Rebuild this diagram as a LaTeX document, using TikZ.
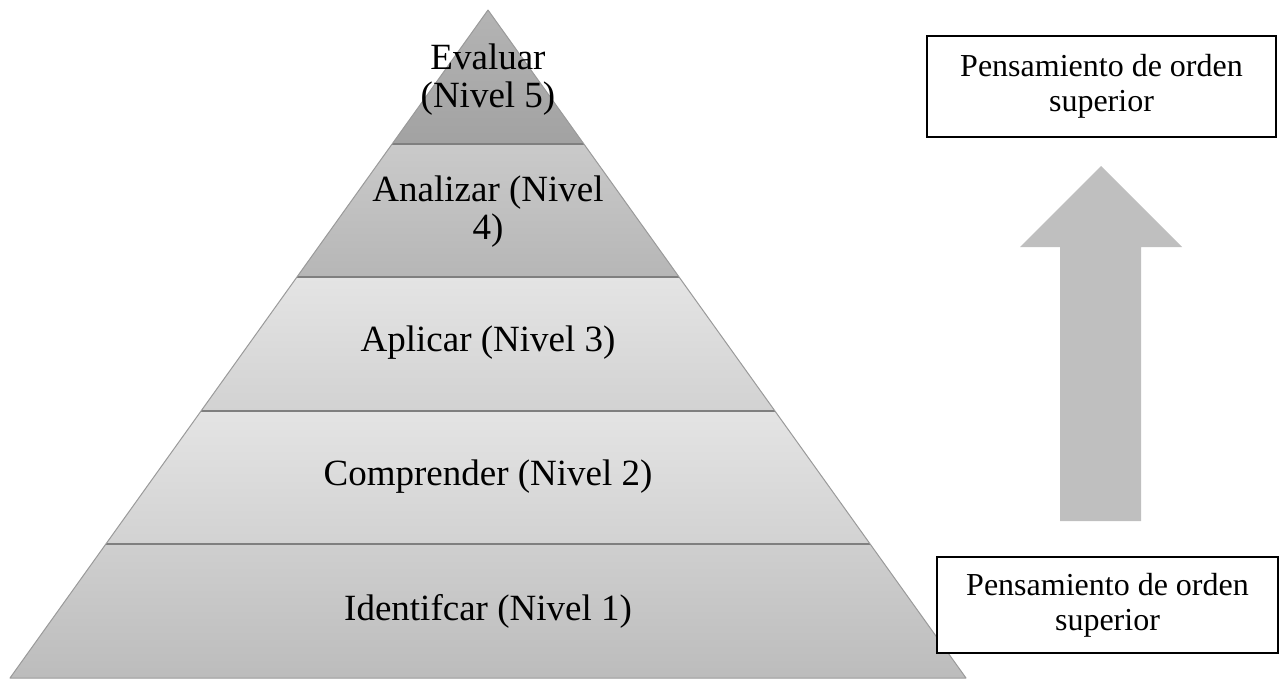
\documentclass[tikz,border=0pt]{standalone}
\usepackage{fontspec}
\setmainfont{Liberation Serif}
\usetikzlibrary{positioning,calc}

\definecolor{niv1a}{HTML}{CFCFCF}
\definecolor{niv1b}{HTML}{BCBCBC}
\definecolor{niv2a}{HTML}{E4E4E4}
\definecolor{niv2b}{HTML}{D2D2D2}
\definecolor{niv3a}{HTML}{E4E4E4}
\definecolor{niv3b}{HTML}{D2D2D2}
\definecolor{niv4a}{HTML}{CACACA}
\definecolor{niv4b}{HTML}{B6B6B6}
\definecolor{niv5a}{HTML}{B4B4B4}
\definecolor{niv5b}{HTML}{A2A2A2}
\definecolor{borde}{HTML}{9A9A9A}
\definecolor{raya}{HTML}{7F7F7F}
\definecolor{flecha}{HTML}{BFBFBF}

\tikzset{
  nivel/.style={font=\fontsize{37}{38}\selectfont, align=center, inner sep=0pt},
  caja/.style={draw=black, line width=2pt, fill=white, align=center,
    font=\fontsize{32}{35}\selectfont, inner sep=0pt}
}

\begin{document}
\begin{tikzpicture}[x=1pt,y=-1pt]
      \useasboundingbox (0,0) rectangle (1280,678);
      \begin{scope}
        \def\alto{133.6}
        \foreach \k/\ca/\cb in {1/niv1a/niv1b,2/niv2a/niv2b,3/niv3a/niv3b,4/niv4a/niv4b,5/niv5a/niv5b} {
          \pgfmathsetmacro\ya{678-\alto*\k}
          \pgfmathsetmacro\yb{678-\alto*(\k-1)}
          \pgfmathsetmacro\wa{(\ya-10)*0.7156}
          \pgfmathsetmacro\wb{(\yb-10)*0.7156}
          \shade[top color=\ca, bottom color=\cb] (488-\wa,\ya) -- (488+\wa,\ya) -- (488+\wb,\yb) -- (488-\wb,\yb) -- cycle;
          \ifnum\k>1
            \draw[raya, line width=2pt] (488-\wb,\yb) -- (488+\wb,\yb);
          \fi
        }
        \draw[borde, line width=1pt, line join=round] (488,10) -- (966,678) -- (10,678) -- cycle;
      \end{scope}

      % textos de los niveles
      \node[nivel] (n1) at (488,611) {Identifcar (Nivel 1)};
      \node[nivel] (n2) at (488,477) {Comprender (Nivel 2)};
      \node[nivel] (n3) at (488,343) {Aplicar (Nivel 3)};
      \node[nivel] (n4) at (488,212) {Analizar (Nivel\\4)};
      \node[nivel] (n5) at (488,80) {Evaluar\\(Nivel 5)};

      % flecha hacia arriba
      \fill[flecha] (1101,166) -- (1182,247) -- (1141,247) -- (1141,521)
        -- (1060,521) -- (1060,247) -- (1020,247) -- cycle;

      % cajas laterales
      \node[caja, minimum width=349pt, minimum height=101pt] (alto) at (1101.5,86.5)
        {Pensamiento de orden\\superior};
      \node[caja, minimum width=341pt, minimum height=96pt] (bajo) at (1107.5,605)
        {Pensamiento de orden\\superior};
    \end{tikzpicture}
\end{document}
